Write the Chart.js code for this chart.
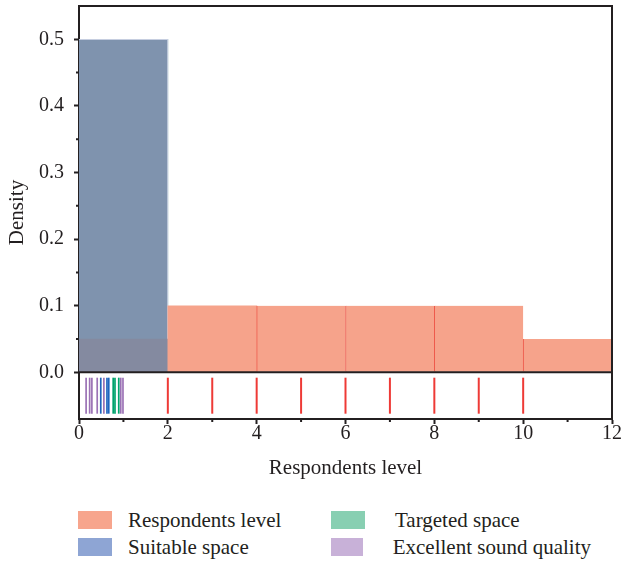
<!DOCTYPE html>
<html>
<head>
<meta charset="utf-8">
<title>Respondents level - density</title>
<script src="https://cdn.jsdelivr.net/npm/chart.js@4.4.1/dist/chart.umd.min.js"></script>
<style>
    html, body { margin: 0; padding: 0; background: #fff; }
    .wrap { position: relative; width: 622px; height: 561px; overflow: hidden; }
    /* o Chart.js reserva 22px em cima e 20px à direita para os rótulos;
       a caixa é deslocada para a área do gráfico cair em 79..612 x 6..419 */
    .chart-box { position: absolute; left: 0; top: -16px; width: 632px; height: 516px; }
    .legend {
        position: absolute; left: 78px; top: 509px;
        display: grid; grid-template-columns: 253px 260px; row-gap: 5px;
        font-family: 'Liberation Serif', serif; font-size: 21px; color: #231f20;
    }
    .legend-item { display: flex; align-items: center; height: 22px; white-space: nowrap; }
    .legend-swatch { width: 34px; height: 18px; margin-right: 16px; box-sizing: border-box; }
    .legend-item.col2 .legend-swatch { margin-right: 30px; }
</style>
</head>
<body>
<div class="wrap">
    <div class="chart-box"><canvas id="densityChart"></canvas></div>
    <div class="legend" id="legend"></div>
</div>
<script>
// ==================================================
// 1. DADOS
// ==================================================
const binEdges = [0, 2, 4, 6, 8, 10, 12];
const respondentsDensity = [0.05, 0.1, 0.1, 0.1, 0.1, 0.05];
const suitableDensity = [0.5, 0, 0, 0, 0, 0];
const targetedDensity = [0.5, 0, 0, 0, 0, 0];
const excellentDensity = [0.5, 0, 0, 0, 0, 0];

// valores individuais (rug)
const respondentsValues = [2, 3, 4, 5, 6, 7, 8, 9, 10];
const suitableValues = [0.49, 0.63, 0.67];
const targetedValues = [0.77, 0.81, 0.895];
const excellentValues = [0.16, 0.24, 0.29, 0.41, 0.56, 0.94, 0.99];

const xTicks = [0, 2, 4, 6, 8, 10, 12];
const xMinorTicks = [1, 3, 5, 7, 9, 11];
const yTicks = [0, 0.1, 0.2, 0.3, 0.4, 0.5];
const yMinorTicks = [0.05, 0.15, 0.25, 0.35, 0.45];

// ==================================================
// 2. ESTILO
// ==================================================
const INK = '#231f20';
const Y_MIN = -0.07;
const Y_MAX = 0.55;
const RUG_Y = Y_MIN / 2;

const series = [
    { label: 'Respondents level', legend: '#f7a58d', rug: '#ee3a36', density: respondentsDensity, values: respondentsValues },
    { label: 'Suitable space', legend: '#8ea5d4', rug: '#1f66bf', density: suitableDensity, values: suitableValues },
    { label: 'Targeted space', legend: '#88cfb2', rug: '#00a36d', density: targetedDensity, values: targetedValues },
    { label: 'Excellent sound quality', legend: '#c8b1d8', rug: '#9b72b5', density: excellentDensity, values: excellentValues }
];

Chart.defaults.font.family = "'Liberation Serif', serif";
Chart.defaults.color = INK;

function toBins(density) {
    return density.map((d, i) => ({ x: (binEdges[i] + binEdges[i + 1]) / 2, y: d }));
}

// ==================================================
// 3. DATASETS
// ==================================================
const datasets = [
    {
        label: series[0].label,
        data: toBins(series[0].density),
        order: 1,
        // a primeira classe fica sobreposta pelo histograma azul
        backgroundColor: ctx => ctx.dataIndex === 0 ? '#848aa0' : '#f6a38b',
        borderColor: '#ee5a4c',
        borderWidth: ctx => ctx.dataIndex > 1 ? { left: 1, top: 0, right: 0, bottom: 0 } : 0,
        borderSkipped: false
    },
    {
        label: series[1].label,
        data: toBins(series[1].density),
        order: 2,
        backgroundColor: '#7f93ae',
        borderColor: '#c6cee0',
        borderWidth: { top: 1, right: 1, left: 0, bottom: 0 },
        borderSkipped: false
    },
    { label: series[2].label, data: toBins(series[2].density), order: 3, backgroundColor: series[2].legend },
    { label: series[3].label, data: toBins(series[3].density), order: 4, backgroundColor: series[3].legend }
];

series.forEach(s => {
    datasets.push({
        type: 'scatter',
        label: s.label + ' (rug)',
        data: s.values.map(v => ({ x: v, y: RUG_Y })),
        order: 0,
        pointStyle: 'line',
        pointRotation: 90,
        pointRadius: 18,
        pointHoverRadius: 18,
        pointBorderColor: s.rug,
        pointBorderWidth: s === series[0] ? 2 : 1.7
    });
});

// ==================================================
// 4. MOLDURA E MARCAS MENORES
// ==================================================
const framePlugin = {
    id: 'frame',
    afterDraw(chart) {
        const { ctx, chartArea: a, scales: { x, y } } = chart;
        const y0 = y.getPixelForValue(0);
        ctx.save();
        ctx.strokeStyle = INK;
        ctx.lineWidth = 2;
        ctx.beginPath();
        ctx.moveTo(a.left - 1, a.top);
        ctx.lineTo(a.right, a.top);
        ctx.lineTo(a.right, a.bottom + 1);
        ctx.moveTo(a.left, y0);
        ctx.lineTo(a.right, y0);
        xMinorTicks.forEach(v => {
            const px = x.getPixelForValue(v);
            ctx.moveTo(px, a.bottom);
            ctx.lineTo(px, a.bottom + 3);
        });
        yMinorTicks.forEach(v => {
            const py = y.getPixelForValue(v);
            ctx.moveTo(a.left, py);
            ctx.lineTo(a.left - 3, py);
        });
        ctx.stroke();
        ctx.restore();
    }
};

// ==================================================
// 5. GRÁFICO
// ==================================================
new Chart(document.getElementById('densityChart'), {
    type: 'bar',
    data: { datasets },
    options: {
        responsive: true,
        maintainAspectRatio: false,
        animation: false,
        grouped: false,
        barPercentage: 1,
        categoryPercentage: 1,
        layout: { padding: 0 },
        plugins: {
            legend: { display: false },
            tooltip: { enabled: false }
        },
        scales: {
            x: {
                type: 'linear',
                min: 0,
                max: 12,
                offset: false,
                afterBuildTicks: scale => { scale.ticks = xTicks.map(v => ({ value: v })); },
                afterFit: scale => { scale.height = 81; },
                grid: { display: true, offset: false, drawOnChartArea: false, color: INK, tickLength: 5, tickWidth: 2 },
                border: { display: true, color: INK, width: 2 },
                ticks: { autoSkip: false, maxRotation: 0, padding: -2, font: { size: 20 }, color: INK },
                title: { display: true, text: 'Respondents level', font: { size: 21 }, color: INK, padding: { top: 0, bottom: 19 } }
            },
            y: {
                min: Y_MIN,
                max: Y_MAX,
                afterBuildTicks: scale => { scale.ticks = yTicks.map(v => ({ value: v })); },
                afterFit: scale => { scale.width = 79; },
                grid: { display: true, drawOnChartArea: false, color: INK, tickLength: 5, tickWidth: 2 },
                border: { display: true, color: INK, width: 2 },
                ticks: { padding: 10, font: { size: 20 }, color: INK, callback: v => Number(v).toFixed(1) },
                title: { display: true, text: 'Density', font: { size: 21 }, color: INK, padding: { top: 5, bottom: 0 } }
            }
        }
    },
    plugins: [framePlugin]
});

// ==================================================
// 6. LEGENDA (duas colunas)
// ==================================================
const legendOrder = [0, 2, 1, 3];
document.getElementById('legend').innerHTML = legendOrder.map((i, k) => `
    <div class="legend-item${k % 2 ? ' col2' : ''}">
        <span class="legend-swatch" style="background:${series[i].legend}"></span>
        <span>${series[i].label}</span>
    </div>
`).join('');
</script>
</body>
</html>
